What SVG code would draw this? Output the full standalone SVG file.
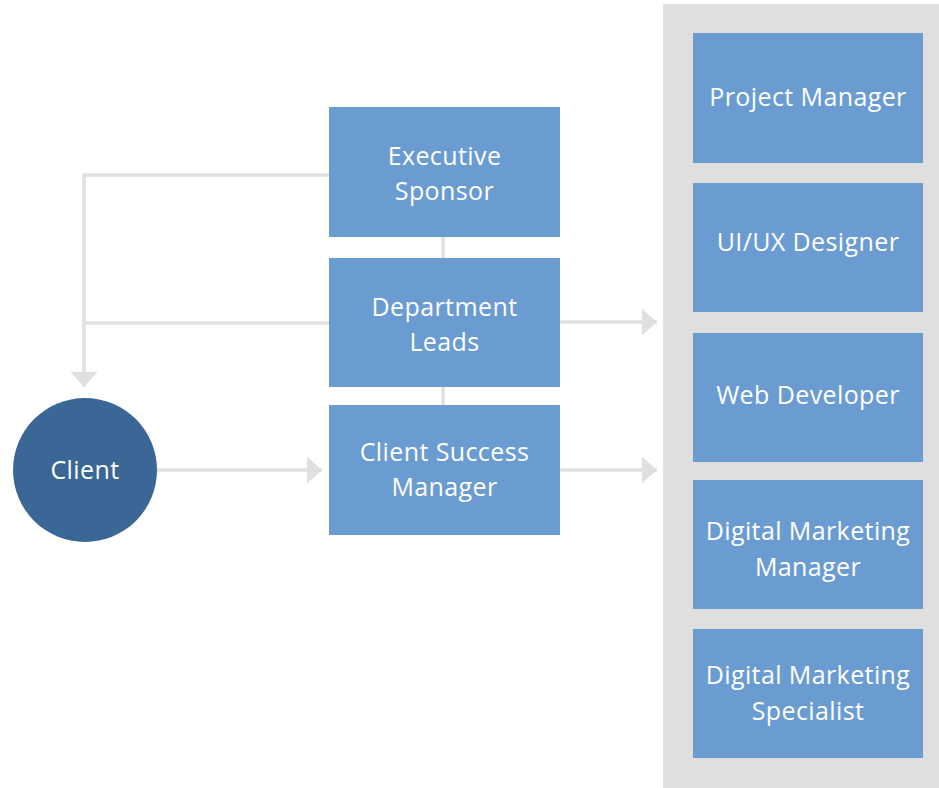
<svg xmlns="http://www.w3.org/2000/svg" width="939" height="788" viewBox="0 0 939 788">
  <style>
    .box { fill: #6a9cd2; }
    .panel { fill: #dfdfdf; }
    .lbl { fill: #ffffff; font-family: "Open Sans", "Liberation Sans", sans-serif; font-size: 25px; letter-spacing: 0.4px; text-anchor: middle; }
    .wire { stroke: #e0e0e0; stroke-width: 3.5; fill: none; }
  </style>
  <defs>
    <marker id="arrow" viewBox="0 0 15 27" refX="15" refY="13.5" markerWidth="15" markerHeight="27" markerUnits="userSpaceOnUse" orient="auto">
      <path d="M0,0 L15,13.5 L0,27 Z" fill="#e0e0e0"/>
    </marker>
  </defs>

  <rect width="939" height="788" fill="#ffffff"/>

  <!-- team panel -->
  <rect class="panel" x="663" y="4" width="276" height="784"/>

  <!-- connectors -->
  <g id="connectors">
    <path class="wire" d="M329,175 H84 V387" marker-end="url(#arrow)"/>
    <path class="wire" d="M329,323 H84"/>
    <path class="wire" d="M443,237 V258"/>
    <path class="wire" d="M443,387 V405"/>
    <path class="wire" d="M156,470 H322" marker-end="url(#arrow)"/>
    <path class="wire" d="M560,322 H657" marker-end="url(#arrow)"/>
    <path class="wire" d="M560,470 H657" marker-end="url(#arrow)"/>
  </g>

  <g id="client">
    <circle cx="85" cy="470" r="72" fill="#3b6797"/>
    <text class="lbl" x="85" y="479">Client</text>
  </g>

  <g id="executive-sponsor">
    <rect class="box" x="329" y="107" width="231" height="130"/>
    <text class="lbl" x="444.5" y="165">Executive</text>
    <text class="lbl" x="444.5" y="200">Sponsor</text>
  </g>
  <g id="department-leads">
    <rect class="box" x="329" y="258" width="231" height="129"/>
    <text class="lbl" x="444.5" y="316">Department</text>
    <text class="lbl" x="444.5" y="351">Leads</text>
  </g>
  <g id="client-success-manager">
    <rect class="box" x="329" y="405" width="231" height="130"/>
    <text class="lbl" x="444.5" y="461">Client Success</text>
    <text class="lbl" x="444.5" y="496">Manager</text>
  </g>

  <g id="project-manager">
    <rect class="box" x="693" y="33" width="230" height="130"/>
    <text class="lbl" x="808" y="106">Project Manager</text>
  </g>
  <g id="ui-ux-designer">
    <rect class="box" x="693" y="183" width="230" height="129"/>
    <text class="lbl" x="808" y="251">UI/UX Designer</text>
  </g>
  <g id="web-developer">
    <rect class="box" x="693" y="333" width="230" height="129"/>
    <text class="lbl" x="808" y="404">Web Developer</text>
  </g>
  <g id="digital-marketing-manager">
    <rect class="box" x="693" y="480" width="230" height="129"/>
    <text class="lbl" x="808" y="540">Digital Marketing</text>
    <text class="lbl" x="808" y="576">Manager</text>
  </g>
  <g id="digital-marketing-specialist">
    <rect class="box" x="693" y="629" width="230" height="129"/>
    <text class="lbl" x="808" y="684">Digital Marketing</text>
    <text class="lbl" x="808" y="720">Specialist</text>
  </g>
</svg>
